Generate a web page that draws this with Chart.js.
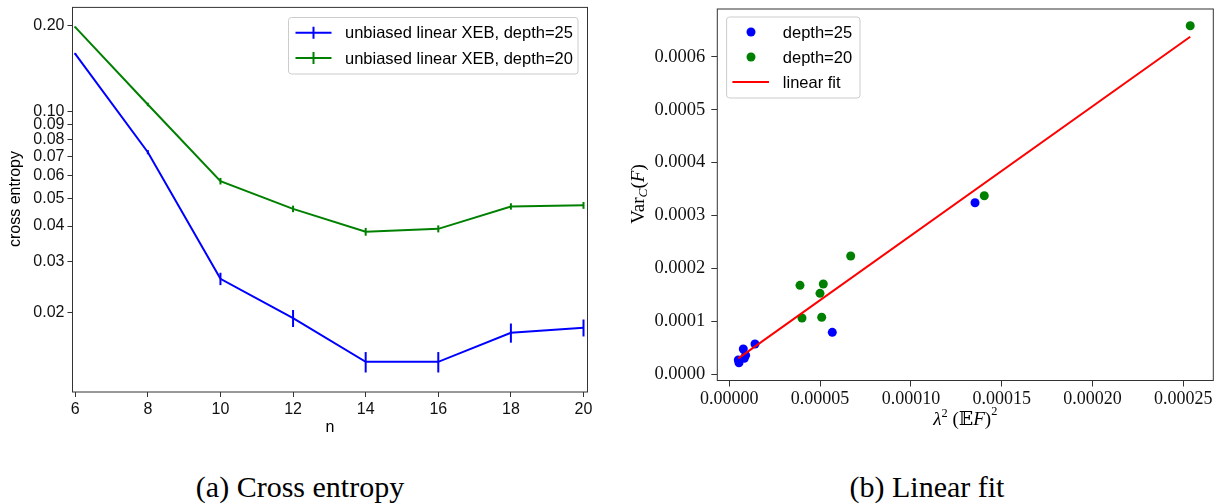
<!DOCTYPE html>
<html>
<head>
<meta charset="utf-8">
<script src="https://cdn.jsdelivr.net/npm/chart.js@4/dist/chart.umd.min.js"></script>
<style>
  body { margin: 0; background: #fff; }
  #wrap { position: relative; width: 1224px; height: 504px; }
  .box { position: absolute; top: 0; width: 612px; height: 440px; }
  .cap { position: absolute; top: 472px; width: 400px; text-align: center;
         font: 30px 'Liberation Serif', serif; line-height: 30px; color: #000; }
</style>
</head>
<body>
<div id="wrap">
  <div class="box" style="left:0"><canvas id="xeb" width="612" height="440"></canvas></div>
  <div class="box" style="left:612px"><canvas id="fit" width="612" height="440"></canvas></div>
  <div class="cap" style="left:100px">(a) Cross entropy</div>
  <div class="cap" style="left:727px">(b) Linear fit</div>
</div>
<script>
// (a) cross entropy vs n
const nValues = [6, 8, 10, 12, 14, 16, 18, 20];
const xeb25 = [0.159, 0.0723, 0.0262, 0.0191, 0.01346, 0.01346, 0.0170, 0.0177];
const xeb25Err = [0.0013, 0.0012, 0.0013, 0.0013, 0.0011, 0.0011, 0.0013, 0.0012];
const xeb20 = [0.197, 0.106, 0.0573, 0.0459, 0.0382, 0.0391, 0.0468, 0.0472];
const xeb20Err = [0.0013, 0.0015, 0.0015, 0.0012, 0.0012, 0.0011, 0.0012, 0.0013];
const entropyTicks = [0.02, 0.03, 0.04, 0.05, 0.06, 0.07, 0.08, 0.09, 0.1, 0.2];

// (b) Var_C(F) vs lambda^2 (EF)^2
const depth25X = [5.34e-6, 4.96e-6, 8.26e-6, 9.0e-6, 7.71e-6, 1.415e-5, 5.672e-5, 1.353e-4];
const depth25Y = [2.19e-5, 2.70e-5, 3.02e-5, 3.6e-5, 4.78e-5, 5.72e-5, 7.93e-5, 3.242e-4];
const depth20X = [3.893e-5, 4.003e-5, 4.994e-5, 5.088e-5, 5.176e-5, 6.685e-5, 1.404e-4, 2.538e-4];
const depth20Y = [1.681e-4, 1.064e-4, 1.530e-4, 1.077e-4, 1.706e-4, 2.235e-4, 3.374e-4, 6.586e-4];
const fitX = [4.96e-6, 2.538e-4];
const fitY = [3.02e-5, 6.378e-4];
const fitXTicks = [0, 0.00005, 0.0001, 0.00015, 0.0002, 0.00025];
const fitYTicks = [0, 0.0001, 0.0002, 0.0003, 0.0004, 0.0005, 0.0006];

const SANS = "'Liberation Sans', Arial, sans-serif";
const SERIF = "'Liberation Serif', 'DejaVu Serif', serif";

function pairs(xs, ys) {
  return xs.map((x, i) => ({ x: x, y: ys[i] }));
}

function drawRich(ctx, parts, cx, cy, size, family, angle) {
  ctx.save();
  ctx.translate(cx, cy);
  ctx.rotate(angle || 0);
  const fontOf = p => (p.i ? 'italic ' : '') + (size * (p.s || 1)) + 'px ' + family;
  let w = 0;
  parts.forEach(p => { ctx.font = fontOf(p); p.w = ctx.measureText(p.t).width; w += p.w; });
  let x = -w / 2;
  ctx.textBaseline = 'middle';
  ctx.textAlign = 'left';
  ctx.fillStyle = '#000';
  parts.forEach(p => { ctx.font = fontOf(p); ctx.fillText(p.t, x, (p.dy || 0) * size); x += p.w; });
  ctx.restore();
}

function drawLegend(ctx, L) {
  ctx.save();
  ctx.beginPath();
  ctx.roundRect(L.x, L.y, L.w, L.h, 3);
  ctx.fillStyle = 'rgba(255,255,255,0.8)';
  ctx.fill();
  ctx.strokeStyle = '#cccccc';
  ctx.lineWidth = 1;
  ctx.stroke();
  L.items.forEach(it => {
    ctx.strokeStyle = it.color;
    ctx.fillStyle = it.color;
    ctx.lineWidth = 2;
    if (it.kind === 'errbar' || it.kind === 'line') {
      ctx.beginPath();
      ctx.moveTo(L.lineX0, it.y);
      ctx.lineTo(L.lineX1, it.y);
      if (it.kind === 'errbar') {
        const m = (L.lineX0 + L.lineX1) / 2;
        ctx.moveTo(m, it.y - 6);
        ctx.lineTo(m, it.y + 6);
      }
      ctx.stroke();
    } else {
      ctx.beginPath();
      ctx.arc(L.dotX, it.y, 4.5, 0, Math.PI * 2);
      ctx.fill();
    }
    ctx.fillStyle = '#000';
    ctx.font = '16.5px ' + SANS;
    ctx.textBaseline = 'middle';
    ctx.fillText(it.label, L.textX, it.y + 1);
  });
  ctx.restore();
}

function makeDecor(cfg) {
  return {
    id: 'decor',
    afterDatasetsDraw(chart) {
      const ctx = chart.ctx;
      const xs = chart.scales.x, ys = chart.scales.y;
      chart.data.datasets.forEach(ds => {
        if (!ds.errors) return;
        ctx.save();
        ctx.strokeStyle = ds.borderColor;
        ctx.lineWidth = 2;
        ds.data.forEach((p, i) => {
          const px = xs.getPixelForValue(p.x);
          ctx.beginPath();
          ctx.moveTo(px, ys.getPixelForValue(p.y - ds.errors[i]));
          ctx.lineTo(px, ys.getPixelForValue(p.y + ds.errors[i]));
          ctx.stroke();
        });
        ctx.restore();
      });
    },
    afterDraw(chart) {
      const ctx = chart.ctx;
      const a = chart.chartArea;
      ctx.save();
      ctx.strokeStyle = '#333';
      ctx.lineWidth = 1;
      ctx.strokeRect(a.left, a.top, a.right - a.left, a.bottom - a.top);
      ctx.restore();
      cfg.titles.forEach(t => drawRich(ctx, t.parts, t.x, t.y, t.size, t.family, t.angle));
      drawLegend(ctx, cfg.legend);
    }
  };
}

function fixSize(prop, val) {
  return s => {
    s[prop] = val;
    s.paddingTop = 0; s.paddingBottom = 0; s.paddingLeft = 0; s.paddingRight = 0;
  };
}

function setTicks(values) {
  return s => { s.ticks = values.map(v => ({ value: v })); };
}

const tickGrid = { display: true, drawOnChartArea: false, drawTicks: true, tickLength: 5, color: '#333', lineWidth: 1 };

new Chart(document.getElementById('xeb'), {
  type: 'line',
  data: {
    datasets: [
      { label: 'unbiased linear XEB, depth=25', data: pairs(nValues, xeb25), errors: xeb25Err,
        borderColor: '#0000ff', borderWidth: 2, pointRadius: 0, tension: 0 },
      { label: 'unbiased linear XEB, depth=20', data: pairs(nValues, xeb20), errors: xeb20Err,
        borderColor: '#008000', borderWidth: 2, pointRadius: 0, tension: 0 }
    ]
  },
  options: {
    responsive: false, animation: false, devicePixelRatio: 1,
    layout: { padding: { left: 0, right: 24.5, top: 7.4, bottom: 0 } },
    plugins: { legend: { display: false }, tooltip: { enabled: false } },
    scales: {
      x: {
        type: 'linear', min: 5.925, max: 20.11,
        afterBuildTicks: setTicks(nValues),
        afterFit: fixSize('height', 48),
        grid: tickGrid, border: { display: false },
        ticks: { font: { family: SANS, size: 16 }, color: '#111', padding: 3, maxRotation: 0, autoSkip: false }
      },
      y: {
        type: 'logarithmic', min: 0.01057, max: 0.2308,
        afterBuildTicks: setTicks(entropyTicks),
        afterFit: fixSize('width', 72.5),
        grid: tickGrid, border: { display: false },
        ticks: { font: { family: SANS, size: 16 }, color: '#111', padding: 3, autoSkip: false,
                 callback: v => Number(v).toFixed(2) }
      }
    }
  },
  plugins: [makeDecor({
    titles: [
      { parts: [{ t: 'cross entropy' }], x: 16, y: 199, size: 16, family: SANS, angle: -Math.PI / 2 },
      { parts: [{ t: 'n' }], x: 330, y: 428, size: 16, family: SANS }
    ],
    legend: {
      x: 288.5, y: 17.5, w: 289.5, h: 56.5, lineX0: 295.5, lineX1: 331.5, textX: 345,
      items: [
        { label: 'unbiased linear XEB, depth=25', color: '#0000ff', kind: 'errbar', y: 32.7 },
        { label: 'unbiased linear XEB, depth=20', color: '#008000', kind: 'errbar', y: 58 }
      ]
    }
  })]
});

const tickGridR = Object.assign({}, tickGrid, { tickLength: 6 });

new Chart(document.getElementById('fit'), {
  type: 'line',
  data: {
    datasets: [
      { label: 'linear fit', data: pairs(fitX, fitY), borderColor: '#ff0000', borderWidth: 2,
        pointRadius: 0, tension: 0, order: 0 },
      { label: 'depth=20', data: pairs(depth20X, depth20Y), showLine: false, pointRadius: 4.5,
        pointBorderWidth: 0, pointBackgroundColor: '#008000', borderColor: '#008000', order: 1 },
      { label: 'depth=25', data: pairs(depth25X, depth25Y), showLine: false, pointRadius: 4.5,
        pointBorderWidth: 0, pointBackgroundColor: '#0000ff', borderColor: '#0000ff', order: 2 }
    ]
  },
  options: {
    responsive: false, animation: false, devicePixelRatio: 1,
    layout: { padding: { left: 0, right: 10.7, top: 9, bottom: 0 } },
    plugins: { legend: { display: false }, tooltip: { enabled: false } },
    scales: {
      x: {
        type: 'linear', min: -6.6e-6, max: 2.665e-4,
        afterBuildTicks: setTicks(fitXTicks),
        afterFit: fixSize('height', 59.5),
        grid: tickGridR, border: { display: false },
        ticks: { font: { family: SERIF, size: 18 }, color: '#111', padding: 2, maxRotation: 0, autoSkip: false,
                 callback: v => Number(v).toFixed(5) }
      },
      y: {
        type: 'linear', min: -1.17e-5, max: 6.902e-4,
        afterBuildTicks: setTicks(fitYTicks),
        afterFit: fixSize('width', 105.3),
        grid: tickGridR, border: { display: false },
        ticks: { font: { family: SERIF, size: 18.5 }, color: '#111', padding: 6, autoSkip: false,
                 callback: v => Number(v).toFixed(4) }
      }
    }
  },
  plugins: [makeDecor({
    titles: [
      { parts: [{ t: 'Var' }, { t: 'C', i: true, s: 0.7, dy: 0.25 }, { t: '(' }, { t: 'F', i: true }, { t: ')' }],
        x: 27, y: 194, size: 19, family: SERIF, angle: -Math.PI / 2 },
      { parts: [{ t: 'λ', i: true }, { t: '2', s: 0.65, dy: -0.35 }, { t: ' (' }, { t: '𝔼' }, { t: 'F', i: true },
                { t: ')' }, { t: '2', s: 0.65, dy: -0.45 }],
        x: 353.3, y: 420, size: 19, family: SERIF }
    ],
    legend: {
      x: 114.6, y: 17, w: 133.4, h: 81, lineX0: 120.4, lineX1: 157, dotX: 139, textX: 170.8,
      items: [
        { label: 'depth=25', color: '#0000ff', kind: 'dot', y: 32 },
        { label: 'depth=20', color: '#008000', kind: 'dot', y: 57 },
        { label: 'linear fit', color: '#ff0000', kind: 'line', y: 82 }
      ]
    }
  })]
});
</script>
</body>
</html>
